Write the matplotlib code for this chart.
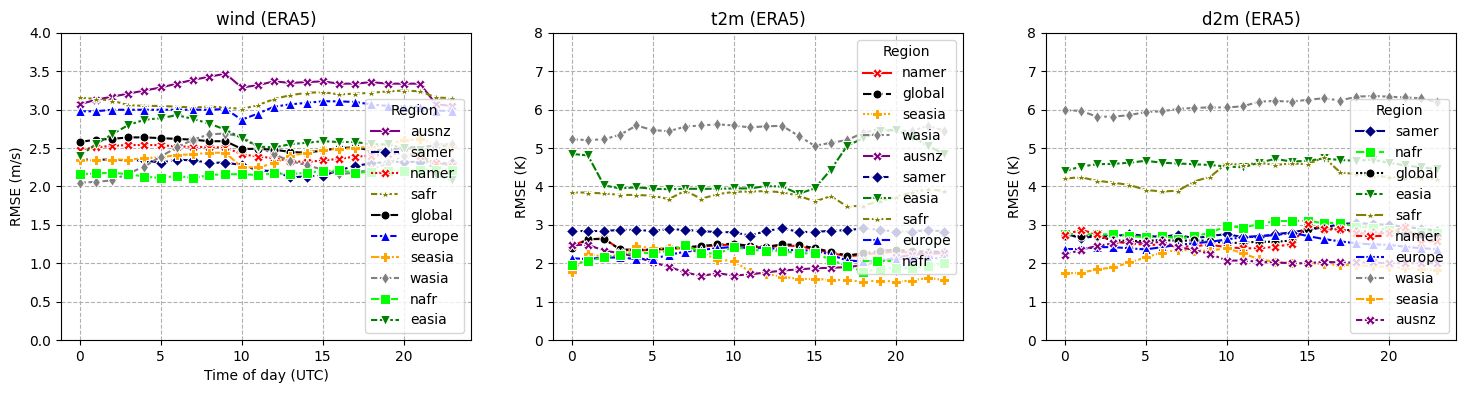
import itertools
import matplotlib
matplotlib.use("Agg")
import matplotlib.pyplot as plt
import numpy as np

hours = list(range(24))

# ---------------- data ----------------
wind = {
    "ausnz":  [3.07, 3.13, 3.17, 3.21, 3.25, 3.29, 3.34, 3.39, 3.43, 3.47, 3.29, 3.32, 3.37, 3.35, 3.36, 3.37, 3.34, 3.34, 3.36, 3.34, 3.34, 3.34, 3.07, 3.05],
    "samer":  [2.35, 2.35, 2.35, 2.34, 2.34, 2.31, 2.35, 2.34, 2.31, 2.31, 2.28, 2.21, 2.20, 2.12, 2.13, 2.14, 2.21, 2.27, 2.30, 2.32, 2.32, 2.32, 2.30, 2.30],
    "namer":  [2.48, 2.51, 2.53, 2.54, 2.54, 2.54, 2.52, 2.52, 2.51, 2.51, 2.42, 2.39, 2.37, 2.33, 2.32, 2.34, 2.36, 2.39, 2.40, 2.42, 2.43, 2.40, 2.30, 2.27],
    "safr":   [3.16, 3.14, 3.12, 3.06, 3.05, 3.05, 3.04, 3.03, 3.04, 3.03, 3.01, 3.06, 3.14, 3.19, 3.22, 3.23, 3.20, 3.21, 3.22, 3.24, 3.25, 3.24, 3.16, 3.15],
    "global": [2.58, 2.61, 2.62, 2.64, 2.64, 2.63, 2.62, 2.61, 2.59, 2.59, 2.49, 2.49, 2.48, 2.45, 2.44, 2.47, 2.50, 2.51, 2.47, 2.48, 2.50, 2.52, 2.53, 2.53],
    "europe": [2.98, 2.98, 3.00, 3.00, 3.00, 3.00, 3.00, 3.00, 3.00, 3.01, 2.87, 2.95, 3.04, 3.07, 3.09, 3.11, 3.11, 3.10, 3.07, 3.05, 3.04, 3.04, 2.99, 2.98],
    "seasia": [2.34, 2.34, 2.35, 2.35, 2.37, 2.38, 2.41, 2.42, 2.44, 2.44, 2.25, 2.25, 2.30, 2.40, 2.44, 2.48, 2.49, 2.50, 2.52, 2.55, 2.60, 2.62, 2.55, 2.52],
    "wasia":  [2.05, 2.06, 2.08, 2.17, 2.26, 2.39, 2.51, 2.61, 2.68, 2.69, 2.65, 2.52, 2.42, 2.33, 2.28, 2.22, 2.16, 2.18, 2.22, 2.30, 2.40, 2.45, 2.55, 2.55],
    "nafr":   [2.16, 2.17, 2.18, 2.16, 2.13, 2.11, 2.14, 2.11, 2.15, 2.16, 2.16, 2.15, 2.17, 2.16, 2.18, 2.20, 2.21, 2.18, 2.19, 2.20, 2.20, 2.22, 2.22, 2.22],
    "easia":  [2.40, 2.55, 2.68, 2.80, 2.87, 2.89, 2.93, 2.88, 2.82, 2.74, 2.63, 2.52, 2.51, 2.55, 2.57, 2.59, 2.58, 2.58, 2.55, 2.55, 2.50, 2.48, 2.15, 2.08],
}

t2m = {
    "namer":  [2.45, 2.62, 2.65, 2.35, 2.33, 2.35, 2.37, 2.40, 2.43, 2.47, 2.49, 2.43, 2.41, 2.46, 2.45, 2.36, 2.27, 2.18, 2.22, 2.27, 2.30, 2.28, 2.26, 2.25],
    "global": [2.39, 2.63, 2.63, 2.36, 2.35, 2.36, 2.39, 2.42, 2.45, 2.49, 2.51, 2.45, 2.43, 2.49, 2.48, 2.39, 2.30, 2.20, 2.26, 2.32, 2.35, 2.32, 2.30, 2.30],
    "seasia": [1.76, 2.24, 2.17, 2.21, 2.45, 2.39, 2.39, 2.36, 2.28, 2.09, 2.06, 1.78, 1.72, 1.65, 1.59, 1.59, 1.57, 1.56, 1.52, 1.55, 1.52, 1.55, 1.62, 1.56],
    "wasia":  [5.23, 5.21, 5.23, 5.35, 5.59, 5.47, 5.44, 5.56, 5.59, 5.62, 5.59, 5.54, 5.57, 5.58, 5.32, 5.06, 5.14, 5.21, 5.40, 5.50, 5.46, 5.45, 5.58, 5.45],
    "ausnz":  [2.48, 2.48, 2.33, 2.26, 2.17, 2.02, 1.91, 1.76, 1.67, 1.74, 1.68, 1.71, 1.76, 1.81, 1.84, 1.87, 1.88, 1.90, 1.95, 2.05, 2.15, 2.22, 2.25, 2.28],
    "samer":  [2.84, 2.84, 2.84, 2.87, 2.87, 2.84, 2.89, 2.87, 2.84, 2.81, 2.81, 2.72, 2.84, 2.91, 2.82, 2.81, 2.85, 2.86, 2.91, 2.87, 2.82, 2.82, 2.87, 2.82],
    "easia":  [4.85, 4.81, 4.03, 3.95, 3.98, 3.94, 3.93, 3.94, 3.94, 3.94, 3.95, 3.95, 4.01, 4.00, 3.81, 3.95, 4.44, 5.06, 5.26, 5.45, 5.47, 5.30, 5.05, 4.85],
    "safr":   [3.85, 3.84, 3.82, 3.78, 3.78, 3.76, 3.67, 3.89, 3.68, 3.80, 3.86, 3.87, 3.88, 3.85, 3.76, 3.61, 3.75, 3.48, 3.50, 3.62, 3.72, 3.85, 3.93, 3.88],
    "europe": [2.13, 2.11, 2.15, 2.15, 2.11, 2.11, 2.22, 2.30, 2.35, 2.39, 2.43, 2.39, 2.41, 2.35, 2.34, 2.33, 2.22, 2.07, 2.05, 2.08, 2.10, 2.12, 2.13, 2.13],
    "nafr":   [1.95, 2.06, 2.15, 2.22, 2.28, 2.26, 2.33, 2.48, 2.28, 2.24, 2.43, 2.35, 2.33, 2.32, 2.26, 2.26, 2.09, 1.93, 1.78, 1.85, 1.88, 1.87, 1.92, 2.00],
}

d2m = {
    "samer":  [2.78, 2.65, 2.71, 2.70, 2.76, 2.71, 2.69, 2.74, 2.65, 2.71, 2.76, 2.68, 2.69, 2.76, 2.80, 2.88, 2.93, 3.02, 3.05, 3.02, 3.00, 2.95, 2.90, 2.85],
    "nafr":   [2.76, 2.76, 2.75, 2.76, 2.71, 2.68, 2.71, 2.64, 2.70, 2.80, 2.97, 2.93, 3.02, 3.10, 3.10, 3.11, 3.04, 3.06, 2.95, 2.93, 2.87, 2.82, 2.81, 2.80],
    "global": [2.70, 2.72, 2.70, 2.60, 2.58, 2.58, 2.61, 2.58, 2.60, 2.58, 2.52, 2.54, 2.56, 2.56, 2.59, 2.90, 2.93, 2.88, 2.85, 2.82, 2.82, 2.80, 2.75, 2.72],
    "easia":  [4.40, 4.52, 4.58, 4.59, 4.62, 4.67, 4.62, 4.60, 4.58, 4.56, 4.52, 4.50, 4.62, 4.72, 4.65, 4.67, 4.73, 4.69, 4.67, 4.70, 4.62, 4.55, 4.50, 4.45],
    "safr":   [4.21, 4.24, 4.15, 4.10, 4.04, 3.91, 3.87, 3.89, 4.13, 4.26, 4.60, 4.56, 4.62, 4.56, 4.60, 4.58, 4.76, 4.37, 4.32, 4.28, 4.25, 4.22, 4.22, 4.20],
    "namer":  [2.74, 2.87, 2.76, 2.56, 2.52, 2.48, 2.48, 2.43, 2.45, 2.48, 2.42, 2.39, 2.39, 2.43, 2.50, 3.01, 2.88, 2.88, 2.80, 2.75, 2.80, 2.95, 2.54, 2.59],
    "europe": [2.37, 2.37, 2.42, 2.42, 2.39, 2.36, 2.42, 2.48, 2.52, 2.56, 2.62, 2.68, 2.71, 2.73, 2.80, 2.71, 2.63, 2.57, 2.52, 2.49, 2.48, 2.43, 2.39, 2.37],
    "wasia":  [5.99, 5.97, 5.82, 5.82, 5.86, 5.94, 5.96, 6.02, 6.05, 6.06, 6.06, 6.09, 6.21, 6.23, 6.21, 6.26, 6.30, 6.24, 6.34, 6.36, 6.34, 6.32, 6.30, 6.19],
    "seasia": [1.74, 1.75, 1.84, 1.89, 2.02, 2.15, 2.28, 2.35, 2.33, 2.33, 2.39, 2.26, 2.10, 2.04, 2.00, 2.00, 1.98, 1.95, 1.95, 1.92, 1.90, 1.88, 1.85, 1.82],
    "ausnz":  [2.22, 2.35, 2.45, 2.52, 2.58, 2.52, 2.56, 2.42, 2.35, 2.24, 2.07, 2.07, 2.04, 2.02, 2.00, 2.00, 2.04, 2.02, 2.02, 2.02, 2.00, 2.00, 2.00, 2.00],
}

titles = ["wind (ERA5)", "t2m (ERA5)", "d2m (ERA5)"]
ylabels = ["RMSE (m/s)", "RMSE (K)", "RMSE (K)"]
ylims = [(0, 4), (0, 8), (0, 8)]
ystep = [0.5, 1, 1]
legend_locs = ["lower right", "upper right", "lower right"]

colors = {
    "ausnz": "purple", "samer": "navy", "namer": "red", "safr": "olive",
    "global": "black", "europe": "blue", "seasia": "orange", "wasia": "grey",
    "nafr": "lime", "easia": "green",
}
markers = {
    "ausnz": "X", "samer": "D", "namer": "X", "safr": "*",
    "global": "o", "europe": "^", "seasia": "P", "wasia": "d",
    "nafr": "s", "easia": "v",
}


def seaborn_dashes(n):
    dashes = ["", (4, 1.5), (1, 1), (3, 1.25, 1.5, 1.25), (5, 1, 1, 1)]
    p = 3
    while len(dashes) < n:
        a = itertools.combinations_with_replacement([3, 1.25], p)
        b = itertools.combinations_with_replacement([4, 1], p)
        seg_list = itertools.chain(*zip(list(a)[1:-1][::-1], list(b)[1:-1]))
        for segs in seg_list:
            gap = min(segs)
            dashes.append(tuple(itertools.chain(*((s, gap) for s in segs))))
        p += 1
    return dashes[:n]


fig = plt.figure(figsize=(14.66, 3.93), dpi=100)
lefts = [61 / 1466, 553 / 1466, 1046 / 1466]
width = 410 / 1466
bottom = 1 - 340 / 393
height = 307 / 393

for i, data in enumerate([wind, t2m, d2m]):
    ax = fig.add_axes([lefts[i], bottom, width, height])
    regions = list(data.keys())
    dl = seaborn_dashes(len(regions))
    for j, reg in enumerate(regions):
        kw = dict(color=colors[reg], marker=markers[reg], lw=1.5, ms=6.5,
                  mec="w", mew=0.75, label=reg)
        if dl[j] == "":
            kw["linestyle"] = "-"
        else:
            kw["dashes"] = dl[j]
        ax.plot(hours, data[reg], **kw)
    ax.set_ylim(*ylims[i])
    ax.set_yticks(np.arange(ylims[i][0], ylims[i][1] + 1e-9, ystep[i]))
    ax.set_xticks([0, 5, 10, 15, 20])
    ax.set_xlim(-1.15, 24.15)
    ax.grid(True, linestyle="--", color="#b0b0b0", lw=0.8)
    ax.set_title(titles[i], fontsize=12)
    ax.set_ylabel(ylabels[i])
    if i == 0:
        ax.set_xlabel("Time of day (UTC)")
    ax.legend(title="Region", loc=legend_locs[i])

fig.savefig("out.png", dpi=100)
